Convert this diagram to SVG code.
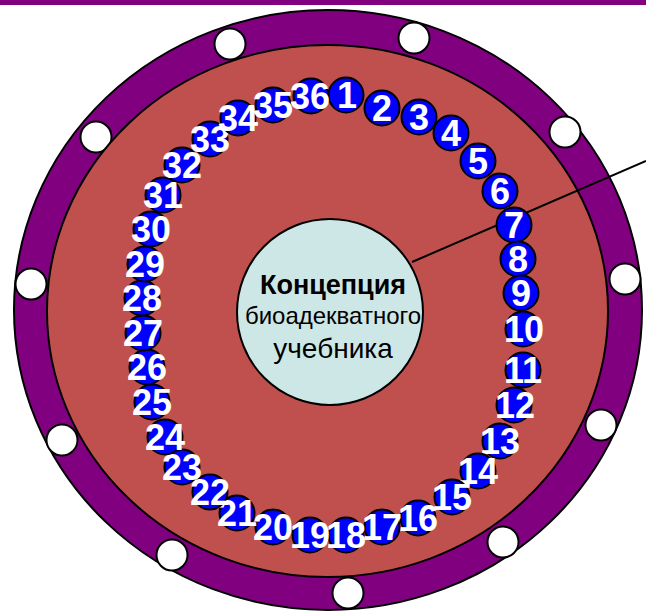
<svg xmlns="http://www.w3.org/2000/svg" width="646" height="612" viewBox="0 0 646 612">
<style>
.band{fill:#800080;stroke:#000;stroke-width:2}
.disk{fill:#C0504D;stroke:#000;stroke-width:2}
.hole{fill:#fff;stroke:#000;stroke-width:2}
.nc{fill:#0000FF;stroke:#000;stroke-width:2}
.nt{fill:#fff;font-family:"Liberation Sans",Arial,sans-serif;font-weight:bold;font-size:36px;text-anchor:middle}
.ct{fill:#000;font-family:"Liberation Sans",Arial,sans-serif;text-anchor:middle}
</style>
<rect x="0" y="0" width="646" height="5" fill="#800080"/>
<g id="outer-ring">
<ellipse class="band" cx="328" cy="310" rx="314" ry="300"/>
<circle class="hole" cx="230" cy="44" r="15.5"/>
<circle class="hole" cx="414" cy="38" r="15.5"/>
<circle class="hole" cx="565" cy="132" r="15.5"/>
<circle class="hole" cx="625" cy="279" r="15.5"/>
<circle class="hole" cx="601" cy="425" r="15.5"/>
<circle class="hole" cx="503" cy="542" r="15.5"/>
<circle class="hole" cx="348" cy="593" r="15.5"/>
<circle class="hole" cx="172" cy="555" r="15.5"/>
<circle class="hole" cx="62" cy="440" r="15.5"/>
<circle class="hole" cx="31" cy="284" r="15.5"/>
<circle class="hole" cx="96" cy="137" r="15.5"/>
</g>
<g id="inner-disk">
<ellipse class="disk" cx="327.5" cy="311" rx="280.5" ry="266"/>
</g>
<g id="connectors">
<line x1="412" y1="262" x2="646" y2="161" stroke="#000" stroke-width="2"/>
</g>
<g id="center">
<circle cx="330" cy="312" r="93" fill="#CDE6E6" stroke="#000" stroke-width="2"/>
<text class="ct" x="333" y="294" font-size="27" font-weight="bold">Концепция</text>
<text class="ct" x="333" y="324" font-size="24">биоадекватного</text>
<text class="ct" x="333" y="358" font-size="28">учебника</text>
</g>
<g id="n1"><circle class="nc" cx="346" cy="95" r="17.5"/><text class="nt" x="347" y="108">1</text></g>
<g id="n2"><circle class="nc" cx="382" cy="108" r="17.5"/><text class="nt" x="382" y="121">2</text></g>
<g id="n3"><circle class="nc" cx="419" cy="117" r="17.5"/><text class="nt" x="419" y="130">3</text></g>
<g id="n4"><circle class="nc" cx="451" cy="133" r="17.5"/><text class="nt" x="451" y="146">4</text></g>
<g id="n5"><circle class="nc" cx="478" cy="161" r="17.5"/><text class="nt" x="478" y="174">5</text></g>
<g id="n6"><circle class="nc" cx="500" cy="191" r="17.5"/><text class="nt" x="500" y="204">6</text></g>
<g id="n7"><circle class="nc" cx="514" cy="225" r="17.5"/><text class="nt" x="514" y="238">7</text></g>
<g id="n8"><circle class="nc" cx="518" cy="259" r="17.5"/><text class="nt" x="518" y="272">8</text></g>
<g id="n9"><circle class="nc" cx="521" cy="293" r="17.5"/><text class="nt" x="521" y="306">9</text></g>
<g id="n10"><circle class="nc" cx="523" cy="329" r="17.5"/><text class="nt" x="524" y="342">10</text></g>
<g id="n11"><circle class="nc" cx="523" cy="370" r="17.5"/><text class="nt" x="523" y="383">11</text></g>
<g id="n12"><circle class="nc" cx="514" cy="405" r="17.5"/><text class="nt" x="515" y="418">12</text></g>
<g id="n13"><circle class="nc" cx="500" cy="441" r="17.5"/><text class="nt" x="500" y="454">13</text></g>
<g id="n14"><circle class="nc" cx="478" cy="471" r="17.5"/><text class="nt" x="478" y="484">14</text></g>
<g id="n15"><circle class="nc" cx="452" cy="497" r="17.5"/><text class="nt" x="452" y="510">15</text></g>
<g id="n16"><circle class="nc" cx="418" cy="518" r="17.5"/><text class="nt" x="418" y="531">16</text></g>
<g id="n17"><circle class="nc" cx="382" cy="527" r="17.5"/><text class="nt" x="382" y="540">17</text></g>
<g id="n18"><circle class="nc" cx="346" cy="535" r="17.5"/><text class="nt" x="346" y="548">18</text></g>
<g id="n19"><circle class="nc" cx="310" cy="535" r="17.5"/><text class="nt" x="310" y="548">19</text></g>
<g id="n20"><circle class="nc" cx="273" cy="527" r="17.5"/><text class="nt" x="273" y="540">20</text></g>
<g id="n21"><circle class="nc" cx="237" cy="513" r="17.5"/><text class="nt" x="237" y="526">21</text></g>
<g id="n22"><circle class="nc" cx="210" cy="492" r="17.5"/><text class="nt" x="210" y="505">22</text></g>
<g id="n23"><circle class="nc" cx="182" cy="467" r="17.5"/><text class="nt" x="182" y="480">23</text></g>
<g id="n24"><circle class="nc" cx="165" cy="437" r="17.5"/><text class="nt" x="165" y="450">24</text></g>
<g id="n25"><circle class="nc" cx="152" cy="402" r="17.5"/><text class="nt" x="152" y="415">25</text></g>
<g id="n26"><circle class="nc" cx="147" cy="367" r="17.5"/><text class="nt" x="147" y="380">26</text></g>
<g id="n27"><circle class="nc" cx="143" cy="333" r="17.5"/><text class="nt" x="143" y="346">27</text></g>
<g id="n28"><circle class="nc" cx="142" cy="298" r="17.5"/><text class="nt" x="142" y="311">28</text></g>
<g id="n29"><circle class="nc" cx="145" cy="264" r="17.5"/><text class="nt" x="145" y="277">29</text></g>
<g id="n30"><circle class="nc" cx="151" cy="229" r="17.5"/><text class="nt" x="151" y="242">30</text></g>
<g id="n31"><circle class="nc" cx="163" cy="195" r="17.5"/><text class="nt" x="163" y="208">31</text></g>
<g id="n32"><circle class="nc" cx="182" cy="165" r="17.5"/><text class="nt" x="182" y="178">32</text></g>
<g id="n33"><circle class="nc" cx="210" cy="139" r="17.5"/><text class="nt" x="210" y="152">33</text></g>
<g id="n34"><circle class="nc" cx="238" cy="118" r="17.5"/><text class="nt" x="238" y="131">34</text></g>
<g id="n35"><circle class="nc" cx="273" cy="105" r="17.5"/><text class="nt" x="273" y="118">35</text></g>
<g id="n36"><circle class="nc" cx="311" cy="96" r="17.5"/><text class="nt" x="310" y="109">36</text></g>
</svg>
